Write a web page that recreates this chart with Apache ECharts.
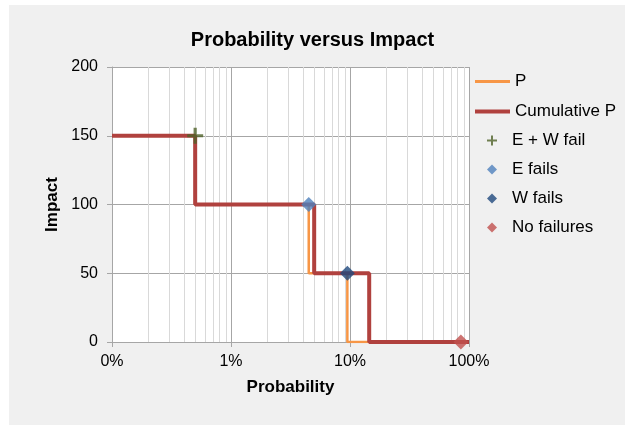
<!DOCTYPE html>
<html>
<head>
<meta charset="utf-8">
<script src="https://cdn.jsdelivr.net/npm/echarts@6/dist/echarts.min.js"></script>
<style>
  html, body { margin: 0; padding: 0; background: #ffffff; }
  #bg { position: absolute; left: 9px; top: 5px; width: 616px; height: 420px; background: #f0f0f0; }
  #chart { position: absolute; left: 0; top: 0; width: 625px; height: 425px; }
</style>
</head>
<body>
<div id="bg"></div>
<div id="chart"></div>
<script>
// ---- data ----
const pProb = [0.001, 0.005, 0.005, 0.045, 0.045, 0.095, 0.095, 0.855];
const pImpact = [150, 150, 100, 100, 50, 50, 0, 0];
const cumProb = [0.001, 0.005, 0.005, 0.05, 0.05, 0.145, 0.145, 1];
const cumImpact = [150, 150, 100, 100, 50, 50, 0, 0];
const scenarios = ['E + W fail', 'E fails', 'W fails', 'No failures'];
const scenProb = [0.005, 0.045, 0.095, 0.855];
const scenImpact = [150, 100, 50, 0];
const scenColors = ['#4f6228', '#4f81bd', '#1f497d', '#c0504d'];
const yTicks = [0, 50, 100, 150, 200];

// minor gridline positions (2..9 within each decade)
const decades = [0.001, 0.01, 0.1];
const minorX = [];
decades.forEach(d => { for (let k = 2; k <= 9; k++) minorX.push(d * k); });

const plusPath = 'path://M4,0 H6 V4 H10 V6 H6 V10 H4 V6 H0 V4 H4 Z';
const diamondPath = 'path://M5,0 L10,5 L5,10 L0,5 Z';

const chart = echarts.init(document.getElementById('chart'), null, { renderer: 'canvas' });

const scatterSeries = scenarios.map((name, i) => ({
  name: name,
  type: 'scatter',
  z: 5,
  symbol: i === 0 ? plusPath : 'diamond',
  symbolSize: i === 0 ? 16 : 15,
  itemStyle: { color: scenColors[i] },
  data: [[scenProb[i], scenImpact[i]]]
}));

const font = 'Liberation Sans, Arial';

chart.setOption({
  backgroundColor: 'transparent',
  animation: false,
  title: {
    text: 'Probability versus Impact',
    left: 'center',
    top: 30,
    padding: 0,
    textStyle: { fontFamily: font, fontSize: 20, fontWeight: 'bold', color: '#000' }
  },
  legend: [
    {
      data: [
        { name: 'P', icon: 'path://M0,0 H35 V3 H0 Z' },
        { name: 'Cumulative P', icon: 'path://M0,0 H35 V4 H0 Z' }
      ],
      orient: 'vertical',
      left: 475,
      top: 73,
      padding: 0,
      itemWidth: 35,
      itemHeight: 17,
      itemGap: 13,
      textStyle: { fontFamily: font, fontSize: 17, lineHeight: 17, color: '#000' }
    },
    {
      data: scenarios.map((n, i) => ({ name: n, icon: i === 0 ? plusPath : diamondPath })),
      orient: 'vertical',
      left: 487,
      top: 132,
      padding: 0,
      itemWidth: 10,
      itemHeight: 10,
      itemGap: 12,
      textStyle: { fontFamily: font, fontSize: 17, lineHeight: 17, color: '#000', padding: [0, 0, 0, 10] }
    }
  ],
  grid: {
    left: 112, right: 156, top: 67, bottom: 83,
    show: true, backgroundColor: '#ffffff', borderWidth: 0
  },
  xAxis: {
    type: 'log',
    logBase: 10,
    min: 0.001,
    max: 1,
    name: 'Probability',
    nameLocation: 'middle',
    nameGap: 37,
    nameTextStyle: { fontFamily: font, fontSize: 17, fontWeight: 'bold', color: '#000' },
    axisLine: { lineStyle: { color: '#a6a6a6', width: 1 } },
    axisTick: { show: true, length: 5, lineStyle: { color: '#a6a6a6' } },
    axisLabel: {
      margin: 12,
      fontFamily: font, fontSize: 16, color: '#000',
      formatter: v => Math.round(v * 100) + '%'
    },
    splitLine: { show: true, lineStyle: { color: '#a6a6a6', width: 1 } }
  },
  yAxis: {
    type: 'value',
    min: yTicks[0],
    max: yTicks[yTicks.length - 1],
    interval: 50,
    name: 'Impact',
    nameLocation: 'middle',
    nameGap: 41,
    nameTextStyle: { fontFamily: font, fontSize: 17, fontWeight: 'bold', color: '#000' },
    axisLine: { show: true, lineStyle: { color: '#a6a6a6', width: 1 } },
    axisTick: { show: true, length: 5, lineStyle: { color: '#a6a6a6' } },
    axisLabel: { margin: 14, fontFamily: font, fontSize: 16, color: '#000' },
    splitLine: { show: true, lineStyle: { color: '#a6a6a6', width: 1 } }
  },
  series: [
    {
      name: '_minor',
      type: 'custom',
      z: 1,
      silent: true,
      clip: true,
      data: minorX.map(x => [x]),
      renderItem: function (params, api) {
        const x = api.value(0);
        const p0 = api.coord([x, yTicks[0]]);
        const p1 = api.coord([x, yTicks[yTicks.length - 1]]);
        const px = Math.round(p0[0]) + 0.5;
        return {
          type: 'line',
          shape: { x1: px, y1: p0[1], x2: px, y2: p1[1] },
          style: { stroke: '#d9d9d9', lineWidth: 1 }
        };
      },
      encode: { x: 0 }
    },
    {
      name: 'P',
      type: 'line',
      z: 3,
      symbol: 'none',
      showSymbol: false,
      color: '#f79646',
      lineStyle: { color: '#f79646', width: 2.5 },
      data: pProb.map((x, i) => [x, pImpact[i]])
    },
    {
      name: 'Cumulative P',
      type: 'line',
      z: 4,
      symbol: 'none',
      showSymbol: false,
      color: '#b0413e',
      lineStyle: { color: '#b0413e', width: 4 },
      data: cumProb.map((x, i) => [x, cumImpact[i]])
    }
  ].concat(scatterSeries)
});
</script>
</body>
</html>
